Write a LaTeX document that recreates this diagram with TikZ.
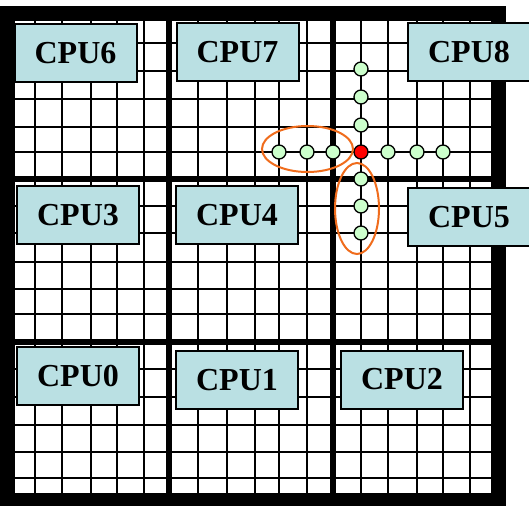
\documentclass[tikz,border=0pt]{standalone}
\usepackage{fontspec}
\setmainfont{Liberation Serif}
\usetikzlibrary{shapes.geometric}
\definecolor{cpufill}{RGB}{186,224,227}
\definecolor{hopgreen}{RGB}{204,255,204}
\definecolor{ringorange}{RGB}{240,108,28}

\begin{document}
\begin{tikzpicture}[x=1pt,y=-1pt,
  gridline/.style={line width=2.2pt, black},
  divider/.style={line width=5.5pt, black},
  cpu/.style={draw=black, line width=2pt, fill=cpufill, minimum width=122pt,
    minimum height=58pt, inner sep=0pt, font=\fontsize{32}{32}\selectfont\bfseries},
  hop/.style={circle, draw=black, line width=1.3pt, fill=hopgreen,
    minimum size=14pt, inner sep=0pt},
  src/.style={hop, fill=red},
  ring/.style={ellipse, draw=ringorange, line width=2pt, inner sep=0pt}
]
\useasboundingbox (0,0) rectangle (529,505);

% chip frame
\fill[black] (0,6) rectangle (506,512);
\fill[white] (15,21) rectangle (491,493);

% mesh of links
\begin{scope}
  \clip (15,21) rectangle (491,493);
  \foreach \x in {35,62,91,117,144,198,227,255,279,307,361,388,417,443,470}
    \draw[gridline] (\x,15) -- (\x,500);
  \foreach \y in {43,71,99,127,152,206,233,262,289,314,369,397,425,452,478}
    \draw[gridline] (10,\y) -- (500,\y);
  \foreach \x in {169,333}
    \draw[divider] (\x,15) -- (\x,500);
  \foreach \y in {179,342}
    \draw[divider] (10,\y) -- (500,\y);
\end{scope}

% processor tiles
\node[cpu] (cpu6) at (75.5,53) {CPU6};
\node[cpu] (cpu7) at (237.5,52.5) {CPU7};
\node[cpu] (cpu8) at (469,52.5) {CPU8};
\node[cpu] (cpu3) at (78,215) {CPU3};
\node[cpu] (cpu4) at (237,215) {CPU4};
\node[cpu] (cpu5) at (469,217) {CPU5};
\node[cpu] (cpu0) at (78,376) {CPU0};
\node[cpu] (cpu1) at (237,380) {CPU1};
\node[cpu] (cpu2) at (402,379.5) {CPU2};

% routers along the row and column of the source
\node[src] (r) at (361,152) {};
\node[hop] (w1) at (333,152) {};
\node[hop] (w2) at (307,152) {};
\node[hop] (w3) at (279,152) {};
\node[hop] (e1) at (388,152) {};
\node[hop] (e2) at (417,152) {};
\node[hop] (e3) at (443,152) {};
\node[hop] (n1) at (361,125) {};
\node[hop] (n2) at (361,97) {};
\node[hop] (n3) at (361,69) {};
\node[hop] (s1) at (361,179) {};
\node[hop] (s2) at (361,206) {};
\node[hop] (s3) at (361,233) {};

% highlighted groups
\node[ring, minimum width=91pt, minimum height=46pt] (westgroup) at (307.5,149) {};
\node[ring, minimum width=44pt, minimum height=91pt] (southgroup) at (357,208.5) {};
\end{tikzpicture}
\end{document}
